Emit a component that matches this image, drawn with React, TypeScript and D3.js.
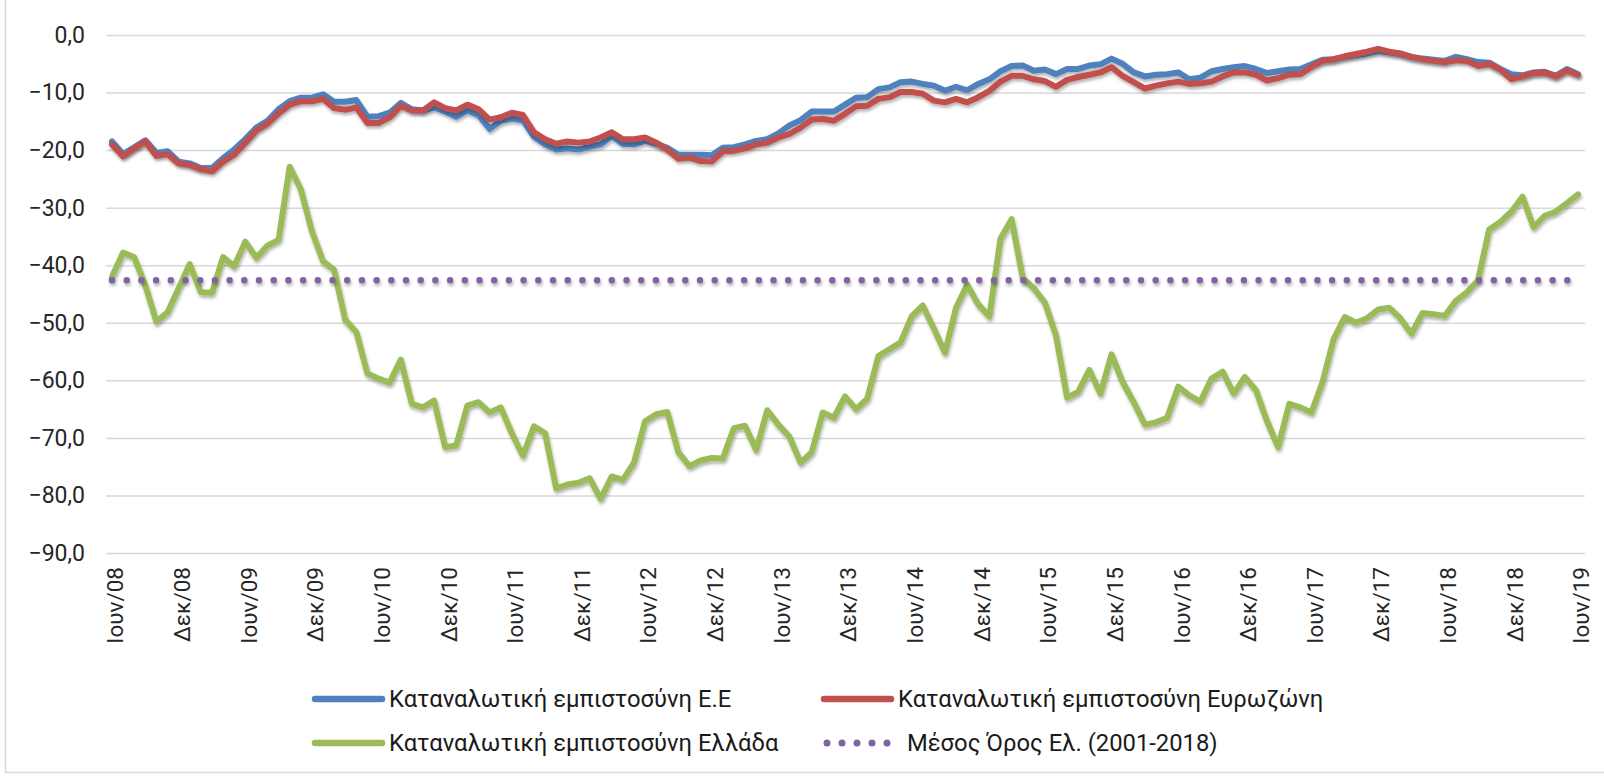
import React, { useEffect, useRef } from 'react';
import * as d3 from 'd3';

// Monthly observations, June 2008 to June 2019 (133 months)
const start_month = new Date(2008, 5, 1);
const end_month = new Date(2019, 5, 1);

// Consumer confidence, EU
const eu_values = [
  -18.5, -20.7, -19.5, -18.3, -20.5, -20.2, -22.0, -22.3, -23.1, -23.1, -21.4, -19.9,
  -18.1, -16.1, -14.9, -12.9, -11.5, -10.9, -10.9, -10.3, -11.6, -11.6, -11.3, -14.2,
  -14.1, -13.5, -11.8, -12.9, -13.1, -12.6, -13.3, -14.2, -13.1, -13.9, -16.3, -14.9,
  -14.5, -14.8, -17.7, -19.0, -19.9, -19.7, -19.9, -19.4, -19.0, -17.5, -18.9, -19.0,
  -18.4, -18.9, -19.6, -20.8, -20.8, -20.8, -20.9, -19.6, -19.5, -19.0, -18.4, -18.1,
  -17.1, -15.7, -14.8, -13.3, -13.3, -13.3, -12.1, -10.9, -10.8, -9.4, -9.1, -8.2,
  -8.1, -8.5, -8.8, -9.7, -9.0, -9.6, -8.5, -7.7, -6.3, -5.4, -5.3, -6.2,
  -6.0, -6.8, -5.9, -5.9, -5.3, -5.1, -4.1, -5.0, -6.5, -7.2, -6.9, -6.8,
  -6.5, -7.7, -7.4, -6.3, -5.9, -5.6, -5.4, -5.9, -6.6, -6.3, -6.0, -5.9,
  -5.1, -4.3, -4.2, -3.8, -3.5, -3.2, -2.8, -3.0, -3.3, -3.8, -4.1, -4.3,
  -4.5, -3.8, -4.2, -4.7, -4.8, -5.9, -6.8, -7.0, -6.5, -6.4, -7.1, -5.9,
  -6.8,
];

// Consumer confidence, euro area
const ez_values = [
  -19.0, -21.1, -19.7, -18.5, -21.0, -20.7, -22.3, -22.6, -23.3, -23.7, -22.0, -20.8,
  -18.7, -16.6, -15.4, -13.6, -12.1, -11.5, -11.5, -11.1, -12.7, -13.0, -12.6, -15.3,
  -15.3, -14.3, -12.3, -13.1, -13.1, -11.7, -12.7, -13.1, -12.1, -12.9, -14.7, -14.3,
  -13.5, -13.9, -16.9, -18.1, -18.9, -18.5, -18.7, -18.5, -17.8, -16.9, -18.1, -18.1,
  -17.8, -18.7, -19.9, -21.5, -21.3, -21.9, -22.0, -20.2, -20.1, -19.7, -19.0, -18.7,
  -17.8, -17.2, -16.1, -14.7, -14.6, -14.9, -13.7, -12.4, -12.3, -11.1, -10.8, -9.9,
  -9.9, -10.2, -11.4, -11.7, -11.1, -11.7, -10.8, -9.7, -8.1, -7.1, -7.1, -7.7,
  -8.0, -9.0, -7.8, -7.3, -6.9, -6.5, -5.6, -7.1, -8.2, -9.3, -8.8, -8.4,
  -8.1, -8.5, -8.4, -8.1, -7.2, -6.5, -6.5, -6.9, -7.9, -7.5, -6.9, -6.8,
  -5.5, -4.5, -4.2, -3.7, -3.3, -2.9, -2.4, -2.9, -3.2, -3.8, -4.2, -4.5,
  -4.7, -4.4, -4.5, -5.4, -5.0, -6.0, -7.7, -7.2, -6.6, -6.5, -7.2, -6.2,
  -6.9,
];

// Consumer confidence, Greece
const gr_values = [
  -42.0, -37.8, -38.6, -43.5, -49.8, -48.2, -44.0, -39.8, -44.7, -44.8, -38.6, -40.2,
  -35.9, -38.7, -36.6, -35.6, -22.9, -26.8, -34.1, -39.3, -40.8, -49.5, -51.6, -58.8,
  -59.7, -60.4, -56.4, -64.1, -64.7, -63.5, -71.6, -71.3, -64.4, -63.8, -65.6, -64.7,
  -69.2, -73.1, -68.0, -69.2, -78.8, -78.1, -77.8, -77.0, -80.6, -76.7, -77.3, -74.3,
  -67.1, -65.9, -65.5, -72.5, -74.9, -73.9, -73.5, -73.6, -68.3, -67.9, -72.1, -65.2,
  -67.7, -69.8, -74.3, -72.5, -65.6, -66.5, -62.8, -65.0, -63.2, -55.8, -54.6, -53.4,
  -48.9, -47.0, -51.0, -55.2, -47.4, -43.4, -46.8, -48.9, -35.4, -32.0, -42.2, -44.0,
  -46.5, -52.2, -63.0, -62.0, -58.2, -62.3, -55.5, -60.3, -63.8, -67.7, -67.3, -66.5,
  -61.1, -62.6, -63.7, -59.7, -58.5, -62.3, -59.4, -61.7, -67.1, -71.6, -64.1, -64.7,
  -65.6, -60.3, -52.8, -49.0, -50.0, -49.2, -47.7, -47.4, -49.2, -51.9, -48.3, -48.5,
  -48.8, -46.2, -44.7, -42.6, -33.8, -32.5, -30.7, -28.1, -33.4, -31.4, -30.7, -29.2,
  -27.7,
];

// Long run average for Greece (2001-2018)
const gr_average = -42.6;

// Category labels shown every six months
const tick_labels = [
  'Ιουν/08', 'Δεκ/08', 'Ιουν/09', 'Δεκ/09', 'Ιουν/10', 'Δεκ/10', 'Ιουν/11', 'Δεκ/11',
  'Ιουν/12', 'Δεκ/12', 'Ιουν/13', 'Δεκ/13', 'Ιουν/14', 'Δεκ/14', 'Ιουν/15', 'Δεκ/15',
  'Ιουν/16', 'Δεκ/16', 'Ιουν/17', 'Δεκ/17', 'Ιουν/18', 'Δεκ/18', 'Ιουν/19',
];

const y_ticks = [0, -10, -20, -30, -40, -50, -60, -70, -80, -90];

const series_names = [
  'Καταναλωτική εμπιστοσύνη Ε.Ε',
  'Καταναλωτική εμπιστοσύνη Ευρωζώνη',
  'Καταναλωτική εμπιστοσύνη Ελλάδα',
  'Μέσος Όρος Ελ. (2001-2018)',
];

const colors = ['#4f81bd', '#c0504d', '#9bbb59', '#8064a2'];

const font_family = "Roboto, 'Noto Sans', sans-serif";

export default function App() {
  const ref = useRef<SVGSVGElement>(null);

  useEffect(() => {
    const svg = d3.select(ref.current);
    svg.selectAll('*').remove();

    const width = 1604;
    const height = 776;

    const months = d3.timeMonth.range(start_month, d3.timeMonth.offset(end_month, 1));

    // Scales: one slot per month, value axis 0 to -90
    const x_scale = d3.scaleLinear().domain([0, months.length - 1]).range([112, 1578]);
    const y_scale = d3.scaleLinear().domain([-90, 0]).range([553, 35]);

    const grid_left = 106;
    const grid_right = 1585;

    // Drop shadow used by the series lines (user space, so flat lines keep it too)
    const defs = svg.append('defs');
    defs
      .append('filter')
      .attr('id', 'shadow')
      .attr('filterUnits', 'userSpaceOnUse')
      .attr('x', 0)
      .attr('y', 0)
      .attr('width', width)
      .attr('height', height)
      .append('feDropShadow')
      .attr('dx', 1)
      .attr('dy', 2.5)
      .attr('stdDeviation', 1.6)
      .attr('flood-color', '#000')
      .attr('flood-opacity', 0.3);

    svg.append('rect').attr('width', width).attr('height', height).attr('fill', '#fff');

    // Chart area border (only left and bottom edges fall inside the picture)
    svg
      .append('rect')
      .attr('x', 5.5)
      .attr('y', -2)
      .attr('width', width + 4)
      .attr('height', height - 1.5)
      .attr('fill', 'none')
      .attr('stroke', '#d9d9d9')
      .attr('stroke-width', 1.5);

    // Y axis with grid lines
    svg
      .append('g')
      .attr('transform', `translate(${grid_left},0)`)
      .call(
        d3
          .axisLeft(y_scale)
          .tickValues(y_ticks)
          .tickSizeInner(-(grid_right - grid_left))
          .tickSizeOuter(0)
          .tickPadding(21)
          .tickFormat((d) => d3.format('.1f')(d as number).replace('.', ','))
      )
      .call((g) => {
        g.select('.domain').remove();
        g.selectAll('.tick line').attr('stroke', '#d9d9d9').attr('stroke-width', 1.5);
        g.selectAll('.tick text')
          .attr('fill', '#262626')
          .style('font-family', font_family)
          .style('font-size', '23px');
      });

    // X axis labels, rotated
    svg
      .append('g')
      .attr('transform', `translate(0,${y_scale(-90)})`)
      .call(
        d3
          .axisBottom(x_scale)
          .tickValues(tick_labels.map((_, i) => i * 6))
          .tickSize(0)
          .tickFormat((_, i) => tick_labels[i])
      )
      .call((g) => {
        g.select('.domain').remove();
        g.selectAll('.tick text')
          .attr('transform', 'rotate(-90)')
          .attr('text-anchor', 'end')
          .attr('x', -14)
          .attr('y', 3)
          .attr('dy', '0.35em')
          .attr('fill', '#262626')
          .style('font-family', font_family)
          .style('font-size', '22.5px');
      });

    const line = d3
      .line<number>()
      .x((_, i) => x_scale(i))
      .y((d) => y_scale(d));

    // Series lines: EU, euro area, Greece
    [eu_values, ez_values, gr_values].forEach((values, k) => {
      svg
        .append('path')
        .datum(values)
        .attr('fill', 'none')
        .attr('stroke', colors[k])
        .attr('stroke-width', 6)
        .attr('stroke-linejoin', 'round')
        .attr('stroke-linecap', 'round')
        .attr('filter', 'url(#shadow)')
        .attr('d', line);
    });

    // Long run average, dotted
    svg
      .append('path')
      .datum(gr_values.map(() => gr_average))
      .attr('fill', 'none')
      .attr('stroke', colors[3])
      .attr('stroke-width', 6.5)
      .attr('stroke-linecap', 'round')
      .attr('stroke-dasharray', '0,14.7')
      .attr('filter', 'url(#shadow)')
      .attr('d', line);

    // Legend, two rows of two
    const legend_x = [312, 821];
    const legend_y = [699, 743];
    const legend = svg.append('g');
    series_names.forEach((name, k) => {
      const lx = legend_x[k % 2];
      const ly = legend_y[Math.floor(k / 2)];
      if (k < 3) {
        legend
          .append('line')
          .attr('x1', lx + 3)
          .attr('x2', lx + 70)
          .attr('y1', ly)
          .attr('y2', ly)
          .attr('stroke', colors[k])
          .attr('stroke-width', 6.5)
          .attr('stroke-linecap', 'round');
      } else {
        legend
          .append('line')
          .attr('x1', lx + 6)
          .attr('x2', lx + 70)
          .attr('y1', ly)
          .attr('y2', ly)
          .attr('stroke', colors[k])
          .attr('stroke-width', 7)
          .attr('stroke-linecap', 'round')
          .attr('stroke-dasharray', '0,15');
      }
      legend
        .append('text')
        .attr('x', k < 3 ? lx + 77 : lx + 86)
        .attr('y', ly)
        .attr('dy', '0.35em')
        .attr('fill', '#1a1a1a')
        .style('font-family', font_family)
        .style('font-size', '23.8px')
        .text(name);
    });
  }, []);

  return (
    <svg
      ref={ref}
      width={1604}
      height={776}
      style={{ position: 'absolute', left: 0, top: 0, display: 'block' }}
    />
  );
}
